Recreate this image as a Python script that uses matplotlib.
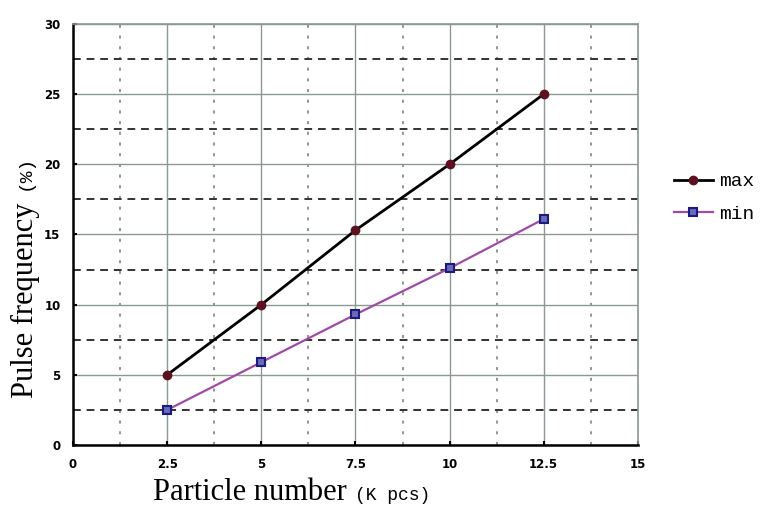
import matplotlib.pyplot as plt
from matplotlib.ticker import MultipleLocator

# values
particle_k = [2.5, 5, 7.5, 10, 12.5]
freq_max = [5.0, 10.0, 15.3, 20.0, 25.0]
freq_min = [2.5, 5.9, 9.3, 12.6, 16.1]

x_ticks = [0, 2.5, 5, 7.5, 10, 12.5, 15]
x_ticklabels = ['0', '2.5', '5', '7.5', '10', '12.5', '15']
y_ticks = [0, 5, 10, 15, 20, 25, 30]

fig = plt.figure(figsize=(7.63, 5.09), dpi=100)
ax = fig.add_axes([0.0957, 0.1257, 0.7403, 0.8273])

ax.plot(particle_k, freq_max, color='black', lw=2.0, marker='o', ms=6,
        markerfacecolor='#5c1020', markeredgecolor='#5c1020', label='max')
ax.plot(particle_k, freq_min, color='#a04aa8', lw=1.6, marker='s', ms=6,
        markerfacecolor='#6a6ab8', markeredgecolor='#1a1a80', markeredgewidth=1.5,
        label='min')

ax.set_xlim(0, 15)
ax.set_ylim(0, 30)
ax.set_xticks(x_ticks)
ax.set_xticklabels(x_ticklabels)
ax.set_yticks(y_ticks)
ax.xaxis.set_minor_locator(MultipleLocator(1.25))
ax.yaxis.set_minor_locator(MultipleLocator(2.5))

ax.grid(which='major', color='#8a9a90', lw=1.0, ls='-')
ax.xaxis.grid(True, which='minor', color='#777777', lw=1.1, ls=(0, (2, 5)))
ax.yaxis.grid(True, which='minor', color='#333333', lw=1.4, ls=(0, (4, 3)))
ax.set_axisbelow(True)

for s in ['left', 'bottom']:
    ax.spines[s].set_color('black')
    ax.spines[s].set_linewidth(1.8)
for s in ['top', 'right']:
    ax.spines[s].set_color('#8a9a90')
    ax.spines[s].set_linewidth(1.2)

ax.tick_params(which='major', direction='in', length=3, width=1.5, pad=9,
               labelsize=8.5)
ax.tick_params(which='minor', length=0)
for lab in ax.get_xticklabels() + ax.get_yticklabels():
    lab.set_fontweight('bold')
    lab.set_family('Liberation Sans Narrow')

# axis titles: serif words followed by a monospaced unit
fig.text(153 / 763, 1 - 500 / 509, 'Particle number', ha='left', va='baseline',
         fontsize=22, family='Liberation Serif')
fig.text(355 / 763, 1 - 500 / 509, '(K pcs)', ha='left', va='baseline',
         fontsize=13, family='Liberation Mono')
fig.text(25 / 763, 1 - 398 / 509, 'Pulse frequency', ha='center', va='bottom',
         rotation=90, fontsize=22, family='Liberation Serif')
fig.text(25 / 763, 1 - 190 / 509, '(%)', ha='center', va='bottom',
         rotation=90, fontsize=14, family='Liberation Mono')

fig.legend(loc='upper left', bbox_to_anchor=(0.86, 0.695), frameon=False,
           prop={'family': 'Liberation Mono', 'size': 14}, handlelength=2.0,
           handletextpad=0.35, labelspacing=0.75)

fig.savefig('out.png', dpi=100)
